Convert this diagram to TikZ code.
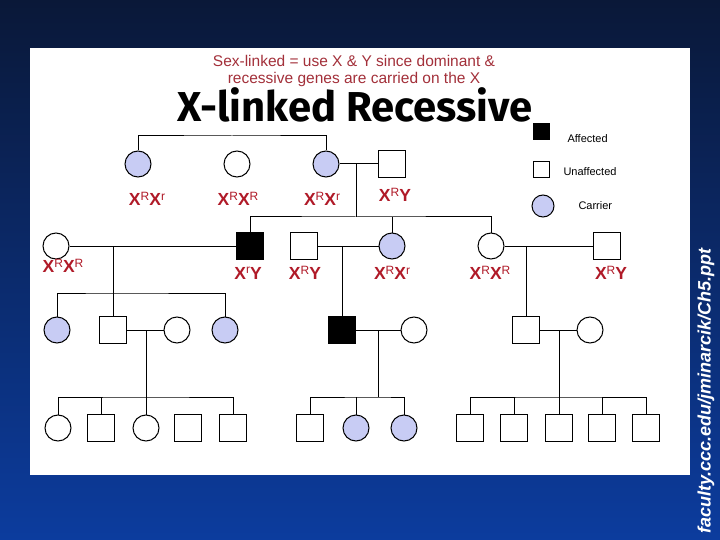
\documentclass[tikz,border=0pt]{standalone}
\usepackage{fontspec}
\setmainfont{Liberation Sans}
\newfontfamily\titlefont{Fira Sans}
\usetikzlibrary{calc}

\definecolor{carrierblue}{HTML}{C8CCF4}
\definecolor{genored}{HTML}{B01A28}
\definecolor{notered}{HTML}{A3303A}
\definecolor{navytop}{HTML}{0A1838}
\definecolor{navybot}{HTML}{0C3C9E}

% genotype pieces
\newcommand{\allele}[1]{\textbf{X}\raisebox{0.6ex}{\fontsize{12}{12}\selectfont #1}}
\newcommand{\ychrom}{\textbf{Y}}

\tikzset{
  female/.style={circle, draw, line width=1pt, minimum size=26pt, inner sep=0pt},
  carrier/.style={female, fill=carrierblue},
  male/.style={rectangle, draw, line width=1pt, minimum size=27pt, inner sep=0pt},
  affected/.style={male, fill=black},
  geno/.style={text=genored, font=\fontsize{17.5}{20}\selectfont, inner sep=0pt},
  keytext/.style={font=\fontsize{11}{13}\selectfont, anchor=west, inner sep=0pt},
  note/.style={text=notered, font=\fontsize{15.5}{18}\selectfont, inner sep=0pt},
}

\begin{document}
\begin{tikzpicture}[x=1pt, y=-1pt, line width=1pt]
    % Background and slide panel
    \shade[top color=navytop, bottom color=navybot] (0,0) rectangle (720,540);
    \fill[white] (30,48) rectangle (690,475);

    % Headings
    \node[note] (note1) at (354,61) {Sex-linked = use X \& Y since dominant \&};
    \node[note] (note2) at (354,79) {recessive genes are carried on the X};
    \node[inner sep=0pt] (title) at (355,105) {\resizebox{355pt}{!}{\titlefont\bfseries X-linked Recessive}};
    \node[rotate=90, text=white, inner sep=0pt, font=\fontsize{18}{20}\selectfont\bfseries\itshape] (src) at (706,391) {faculty.ccc.edu/jminarcik/Ch5.ppt};

    % Key
    \node[affected, minimum size=16pt] (keyA) at (541,132) {};
    \node[keytext] (keyAt) at (567,139) {Affected};
    \node[male, minimum size=16pt] (keyU) at (541,170) {};
    \node[keytext] (keyUt) at (563,172) {Unaffected};
    \node[carrier, minimum size=22pt] (keyC) at (543,206) {};
    \node[keytext] (keyCt) at (578,206) {Carrier};

    % Generation I
    \node[carrier] (I1) at (138,164) {};
    \node[female]  (I2) at (237,164) {};
    \node[carrier] (I3) at (326,164) {};
    \node[male]    (I4) at (392,164) {};
    \node[geno] (I1g) at (147,199) {\allele{R}\allele{r}};
    \node[geno] (I2g) at (238,199) {\allele{R}\allele{R}};
    \node[geno] (I3g) at (322,199) {\allele{R}\allele{r}};
    \node[geno] (I4g) at (395,195) {\allele{R}\ychrom};

    % Generation II
    \node[female]   (II1) at (56,246) {};
    \node[affected] (II2) at (250,246) {};
    \node[male]     (II3) at (304,246) {};
    \node[carrier]  (II4) at (392,246) {};
    \node[female]   (II5) at (491,246) {};
    \node[male]     (II6) at (607,246) {};
    \node[geno] (II1g) at (63,266) {\allele{R}\allele{R}};
    \node[geno] (II2g) at (248,273) {\allele{r}\ychrom};
    \node[geno] (II3g) at (305,273) {\allele{R}\ychrom};
    \node[geno] (II4g) at (392,273) {\allele{R}\allele{r}};
    \node[geno] (II5g) at (490,273) {\allele{R}\allele{R}};
    \node[geno] (II6g) at (611,273) {\allele{R}\ychrom};

    % Generation III
    \node[carrier]  (III1) at (57,330) {};
    \node[male]     (III2) at (113,330) {};
    \node[female]   (III3) at (177,330) {};
    \node[carrier]  (III4) at (225,330) {};
    \node[affected] (III5) at (342,330) {};
    \node[female]   (III6) at (414,330) {};
    \node[male]     (III7) at (526,330) {};
    \node[female]   (III8) at (590,330) {};

    % Generation IV
    \node[female]  (IV1)  at (58,428) {};
    \node[male]    (IV2)  at (101,428) {};
    \node[female]  (IV3)  at (146,428) {};
    \node[male]    (IV4)  at (188,428) {};
    \node[male]    (IV5)  at (233,428) {};
    \node[male]    (IV6)  at (310,428) {};
    \node[carrier] (IV7)  at (356,428) {};
    \node[carrier] (IV8)  at (404,428) {};
    \node[male]    (IV9)  at (470,428) {};
    \node[male]    (IV10) at (514,428) {};
    \node[male]    (IV11) at (559,428) {};
    \node[male]    (IV12) at (602,428) {};
    \node[male]    (IV13) at (646,428) {};

    % Sibship and mating lines, I -> II
    \coordinate (top) at (232,136);
    \draw (I1.north) |- (top) -| (I3.north);
    \draw (I3.east) -- (I4.west);
    \coordinate (m1) at (356,164);
    \coordinate (s1) at (356,217);
    \draw (m1) -- (s1);
    \draw (II2.north) |- (s1) -| (II5.north);
    \draw (II4.north) -- (II4.north |- s1);

    % II -> III
    \draw (II1.east) -- (II2.west);
    \coordinate (m2) at (113,246);
    \coordinate (s2) at (113,293);
    \draw (m2) -- (III2.north);
    \draw (III1.north) |- (s2) -| (III4.north);
    \draw (II3.east) -- (II4.west);
    \coordinate (m3) at (342,246);
    \draw (m3) -- (III5.north);
    \draw (II5.east) -- (II6.west);
    \coordinate (m4) at (526,246);
    \draw (m4) -- (III7.north);

    % III -> IV
    \draw (III2.east) -- (III3.west);
    \coordinate (m5) at (146,330);
    \coordinate (s5) at (146,397);
    \draw (m5) -- (IV3.north);
    \draw (IV1.north) |- (s5) -| (IV5.north);
    \draw (IV2.north) -- (IV2.north |- s5);

    \draw (III5.east) -- (III6.west);
    \coordinate (m6) at (378,330);
    \coordinate (s6) at (378,397);
    \draw (m6) -- (s6);
    \draw (IV6.north) |- (s6) -| (IV8.north);
    \draw (IV7.north) -- (IV7.north |- s6);

    \draw (III7.east) -- (III8.west);
    \coordinate (m7) at (559,330);
    \coordinate (s7) at (559,397);
    \draw (m7) -- (IV11.north);
    \draw (IV9.north) |- (s7) -| (IV13.north);
    \foreach \kid in {IV10,IV12}
        \draw (\kid.north) -- (\kid.north |- s7);
\end{tikzpicture}
\end{document}
